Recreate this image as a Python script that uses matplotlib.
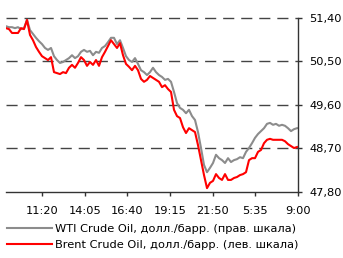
import matplotlib
matplotlib.use("Agg")
import matplotlib.pyplot as plt
import numpy as np

wti = [51.23, 51.21, 51.21, 51.19, 51.21, 51.17, 51.19, 51.36, 51.15, 51.07,
       50.99, 50.92, 50.86, 50.78, 50.74, 50.78, 50.61, 50.53, 50.47, 50.49,
       50.53, 50.57, 50.63, 50.57, 50.61, 50.70, 50.74, 50.70, 50.72, 50.63,
       50.70, 50.68, 50.78, 50.82, 50.90, 50.99, 50.99, 50.86, 50.94, 50.78,
       50.61, 50.53, 50.49, 50.57, 50.45, 50.32, 50.28, 50.22, 50.28, 50.37,
       50.28, 50.22, 50.18, 50.12, 50.14, 50.08, 49.87, 49.64, 49.54, 49.50,
       49.43, 49.50, 49.37, 49.29, 49.04, 48.71, 48.36, 48.21, 48.30, 48.40,
       48.57, 48.50, 48.46, 48.40, 48.50, 48.42, 48.46, 48.48, 48.52, 48.50,
       48.63, 48.71, 48.81, 48.92, 49.00, 49.06, 49.12, 49.21, 49.23, 49.19,
       49.21, 49.17, 49.19, 49.17, 49.12, 49.06, 49.10, 49.12]

brent = [51.19, 51.17, 51.09, 51.09, 51.09, 51.19, 51.17, 51.36, 51.05, 50.94,
         50.80, 50.70, 50.61, 50.57, 50.53, 50.59, 50.28, 50.26, 50.24, 50.28,
         50.26, 50.37, 50.43, 50.37, 50.47, 50.59, 50.53, 50.41, 50.49, 50.43,
         50.53, 50.41, 50.59, 50.70, 50.82, 50.94, 50.86, 50.78, 50.88, 50.63,
         50.45, 50.39, 50.32, 50.41, 50.32, 50.14, 50.08, 50.12, 50.20, 50.16,
         50.12, 50.08, 49.97, 50.01, 49.93, 49.87, 49.50, 49.37, 49.33, 49.14,
         49.02, 49.12, 49.08, 49.04, 48.77, 48.46, 48.15, 47.88, 47.99, 48.03,
         48.17, 48.09, 48.05, 48.17, 48.05, 48.05, 48.09, 48.11, 48.15, 48.17,
         48.21, 48.46, 48.50, 48.50, 48.63, 48.67, 48.81, 48.88, 48.90, 48.88,
         48.88, 48.88, 48.88, 48.85, 48.79, 48.75, 48.71, 48.73]

xtick_labels = ["11:20", "14:05", "16:40", "19:15", "21:50", "5:35", "9:00"]
ytick_values = [47.80, 48.70, 49.60, 50.50, 51.40]
wti_label = "WTI Crude Oil, долл./барр. (прав. шкала)"
brent_label = "Brent Crude Oil, долл./барр. (лев. шкала)"

plt.rcParams['font.family'] = ['DejaVu Sans']
fs = 8.2

fig = plt.figure(figsize=(3.43, 2.58), dpi=100)
ax = fig.add_axes([6/343, 1-192/258, (298-6)/343, (192-18)/258])

x = np.arange(len(wti))
ax.plot(x, wti, color='#8c8c8c', lw=1.5, label=wti_label)
ax.plot(x, brent, color='#ff0000', lw=1.5, label=brent_label)

xmax = 97.33
ax.set_xlim(0, xmax)
ax.set_ylim(47.80, 51.40)

tick_pos = np.linspace(12, xmax, len(xtick_labels))
ax.set_xticks(tick_pos)
ax.set_xticklabels(xtick_labels, fontsize=fs)

ax.yaxis.tick_right()
ax.set_yticks(ytick_values)
ax.set_yticklabels([f"{v:.2f}".replace('.', ',') for v in ytick_values], fontsize=fs)

for v in ytick_values[1:]:
    ax.axhline(v, color='#444444', lw=1.0, ls=(0, (8, 5)), zorder=0, clip_on=False)

for s in ['top', 'left']:
    ax.spines[s].set_visible(False)
for s in ['bottom', 'right']:
    ax.spines[s].set_color('#333333')
    ax.spines[s].set_linewidth(1.0)

ax.tick_params(axis='x', direction='out', length=3, width=1, color='#333333', pad=7)
ax.tick_params(axis='y', direction='out', length=3, width=1, color='#333333', pad=5)

fig.legend(loc='upper left', bbox_to_anchor=(8/343 - 0.012, 1-221/258), frameon=False,
           fontsize=fs, handlelength=3.9, handletextpad=0.3, labelspacing=0.45,
           borderaxespad=0, borderpad=0.3)

fig.savefig("out.png", dpi=100)
